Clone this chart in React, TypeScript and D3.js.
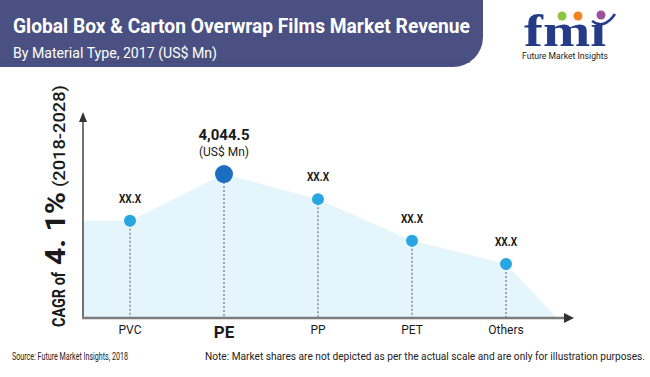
import React from "react";
import * as d3 from "d3";

const categories = ["PVC", "PE", "PP", "PET", "Others"];
const values = [2730, 4044.5, 3340, 2170, 1520];
const valueLabels = ["XX.X", "4,044.5", "XX.X", "XX.X", "XX.X"];
const highlightIndex = 1;

const W = 650;
const H = 377;

export default function App() {
  const axisX = 83;
  const axisY = 318;
  const x = d3.scalePoint<string>().domain(categories).range([130, 506]);
  const y = d3.scaleLinear().domain([0, 5760]).range([axisY, 113]);
  const step = x.step();

  const areaPts: [number, number][] = [
    [axisX, y(values[0])],
    ...categories.map((c, i) => [x(c)!, y(values[i])] as [number, number]),
    [x(categories[categories.length - 1])! + step * 0.54, y(0)],
  ];
  const area = d3
    .area<[number, number]>()
    .x((d) => d[0])
    .y0(axisY)
    .y1((d) => d[1]);

  const font = "Roboto, 'Open Sans', sans-serif";

  return (
    <svg width={W} height={H} style={{ position: "absolute", left: 0, top: 0, background: "#fff" }}>
      {/* header */}
      <path d="M0,0 H483 V37 A30,30 0 0 1 453,67 H0 Z" fill="#4a5182" />
      <line x1={0} x2={470} y1={62} y2={62} stroke="#434a78" strokeWidth={1} />
      <text x={13} y={33} fill="#fff" fontFamily={font} fontWeight={700} fontSize={21} textLength={457} lengthAdjust="spacingAndGlyphs">
        Global Box &amp; Carton Overwrap Films Market Revenue
      </text>
      <text x={13} y={58} fill="#fff" fontFamily={font} fontWeight={400} fontSize={15} textLength={204} lengthAdjust="spacingAndGlyphs">
        By Material Type, 2017 (US$ Mn)
      </text>

      {/* logo */}
      <text x={524} y={46} fill="#243c88" fontFamily="'Liberation Serif', 'DejaVu Serif', serif" fontWeight={700} fontSize={46} textLength={82} lengthAdjust="spacingAndGlyphs">
        fmı
      </text>
      <circle cx={562} cy={16} r={4.5} fill="#8cc540" />
      <circle cx={578} cy={16} r={4.5} fill="#f58220" />
      <circle cx={601} cy={15} r={4.5} fill="#9b4f9f" />
      <path d="M592,21 Q604,30 615,14" fill="none" stroke="#243c88" strokeWidth={2.5} />
      <text x={522} y={59} fill="#222" fontFamily={font} fontSize={9} textLength={86} lengthAdjust="spacingAndGlyphs">
        Future Market Insights
      </text>

      {/* y label */}
      <g fill="#1a1a1a" fontFamily={font}>
        <text transform="translate(65,327) rotate(-90)" fontWeight={700} fontSize={18} textLength={55} lengthAdjust="spacingAndGlyphs">
          CAGR of
        </text>
        <text transform="translate(65,265) rotate(-90)" fontWeight={700} fontSize={28} textLength={73} lengthAdjust="spacingAndGlyphs">
          4. 1%
        </text>
        <text transform="translate(65,187) rotate(-90)" fontWeight={500} fontSize={17} textLength={102} lengthAdjust="spacingAndGlyphs">
          (2018-2028)
        </text>
      </g>

      {/* area */}
      <path d={area(areaPts) || ""} fill="#e4f5fc" />

      {/* axes */}
      <line x1={axisX} x2={axisX} y1={axisY} y2={120} stroke="#444" strokeWidth={1.5} />
      <path d={`M${axisX - 4},${122} L${axisX},${112} L${axisX + 4},${122} Z`} fill="#333" />
      <line x1={axisX - 1} x2={566} y1={axisY} y2={axisY} stroke="#7d7d7d" strokeWidth={2.5} />
      <path d={`M564,${axisY - 5} L574,${axisY} L564,${axisY + 5} Z`} fill="#333" />

      {/* drop lines, points, labels */}
      {categories.map((c, i) => {
        const cx = x(c)!;
        const cy = y(values[i]);
        const hi = i === highlightIndex;
        return (
          <g key={c}>
            <line x1={cx} x2={cx} y1={cy} y2={axisY - 1} stroke="#8a8a8a" strokeWidth={1.5} strokeDasharray="2,2" />
            <circle cx={cx} cy={cy} r={hi ? 9 : 6} fill={hi ? "#1c6ec2" : "#29a6e1"} />
            {hi ? (
              <>
                <text x={cx} y={cy - 34} textAnchor="middle" fontFamily={font} fontWeight={700} fontSize={15} fill="#1a1a1a">
                  {valueLabels[i]}
                </text>
                <text x={cx} y={cy - 18} textAnchor="middle" fontFamily={font} fontSize={12} fill="#1a1a1a">
                  (US$ Mn)
                </text>
              </>
            ) : (
              <text x={cx} y={cy - 18} textAnchor="middle" fontFamily={font} fontWeight={700} fontSize={12} fill="#1a1a1a" textLength={22} lengthAdjust="spacingAndGlyphs">
                {valueLabels[i]}
              </text>
            )}
            <text x={cx} y={hi ? 338 : 334} textAnchor="middle" fontFamily={font} fontWeight={hi ? 700 : 400} fontSize={hi ? 17 : 12} fill="#1a1a1a">
              {c}
            </text>
          </g>
        );
      })}

      {/* footer */}
      <text x={12} y={360} fontFamily={font} fontSize={10.5} fill="#222" textLength={116} lengthAdjust="spacingAndGlyphs">
        Source: Future Market Insights, 2018
      </text>
      <text x={205} y={360} fontFamily={font} fontSize={10.5} fill="#222" textLength={440} lengthAdjust="spacingAndGlyphs">
        Note: Market shares are not depicted as per the actual scale and are only for illustration purposes.
      </text>
    </svg>
  );
}
